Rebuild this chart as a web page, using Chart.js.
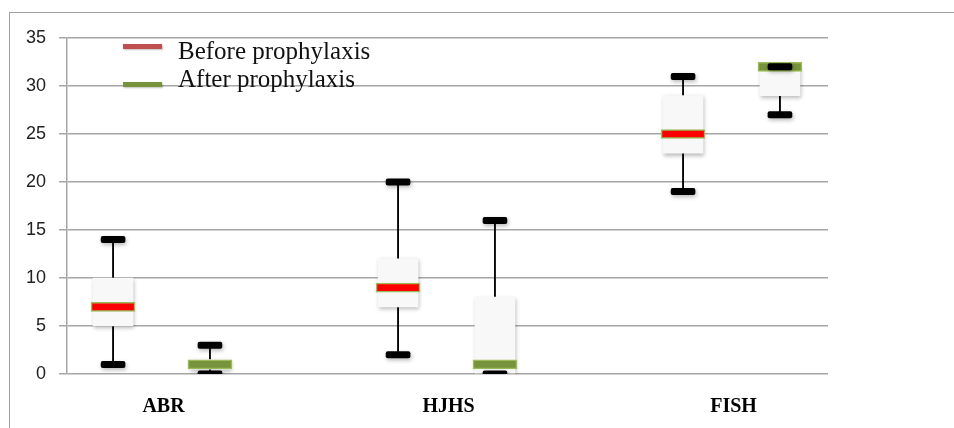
<!DOCTYPE html>
<html>
<head>
<meta charset="utf-8">
<script src="https://cdn.jsdelivr.net/npm/chart.js@4/dist/chart.umd.min.js"></script>
<style>
  body { margin: 0; background: #fff; overflow: hidden; }
  #wrap { position: relative; width: 954px; height: 428px; overflow: hidden; }
  #frame { position: absolute; left: 9px; top: 12px; width: 1000px; height: 500px;
           border-left: 1px solid #a0a0a0; border-top: 1px solid #a0a0a0; }
  #graphBox { position: absolute; left: 0; top: 0; }
  .legendItem { position: absolute; left: 178px; font: 25px "Liberation Serif", serif;
                line-height: 28px; color: #111; white-space: nowrap; }
  .legendLine { position: absolute; left: 123px; width: 39px; height: 5px;
                box-shadow: 1px 1px 2px rgba(0,0,0,0.25); }
</style>
</head>
<body>
<div id="wrap">
  <div id="frame"></div>
  <canvas id="graphBox" width="954" height="428"></canvas>
  <div class="legendLine" style="top:44px;background:#c0504d"></div>
  <div class="legendItem" style="top:37px">Before prophylaxis</div>
  <div class="legendLine" style="top:82px;background:#77933c"></div>
  <div class="legendItem" style="top:65px">After prophylaxis</div>
</div>
<script>
// Box plot values
const categories = ['ABR', 'HJHS', 'FISH'];

const beforeMin = [1, 2, 19];
const beforeQ1 = [5, 7, 23];
const beforeMedian = [7, 9, 25];
const beforeQ3 = [10, 12, 29];
const beforeMax = [14, 20, 31];

const afterMin = [0, 0, 27];
const afterQ1 = [0.5, 0, 29];
const afterMedian = [1, 1, 32];
const afterQ3 = [1.5, 8, 32];
const afterMax = [3, 16, 32];

const yTicks = [0, 5, 10, 15, 20, 25, 30, 35];

// where each series sits around its category
const shift = 0.17;
const medianHalf = 0.47;
const capHalf = 0.33;

function points(beforeFn, afterFn) {
    let out = [];
    categories.forEach((c, i) => {
        out.push({ x: i - shift, y: beforeFn(i) });
        out.push({ x: i + shift, y: afterFn(i) });
    });
    return out;
}

const whiskers = points(i => [beforeMin[i], beforeMax[i]], i => [afterMin[i], afterMax[i]]);
const boxes = points(i => [beforeQ1[i], beforeQ3[i]], i => [afterQ1[i], afterQ3[i]]);
const medians = points(i => [beforeMedian[i] - medianHalf, beforeMedian[i] + medianHalf],
                       i => [afterMedian[i] - medianHalf, afterMedian[i] + medianHalf]);
const lowCaps = points(i => [beforeMin[i] - capHalf, beforeMin[i] + capHalf],
                       i => [afterMin[i] - capHalf, afterMin[i] + capHalf]);
const highCaps = points(i => [beforeMax[i] - capHalf, beforeMax[i] + capHalf],
                        i => [afterMax[i] - capHalf, afterMax[i] + capHalf]);

const medianColors = medians.map((p, k) => k % 2 === 0 ? '#ff0000' : '#77933c');

// soft shadow under boxes and caps
const shadowPlugin = {
    id: 'shadow',
    beforeDatasetDraw(chart, args) {
        const ds = chart.data.datasets[args.index];
        if (!ds.shadow) return;
        const ctx = chart.ctx;
        ctx.save();
        ctx.shadowColor = 'rgba(0,0,0,0.28)';
        ctx.shadowBlur = 4;
        ctx.shadowOffsetX = 1;
        ctx.shadowOffsetY = 2;
    },
    afterDatasetDraw(chart, args) {
        const ds = chart.data.datasets[args.index];
        if (ds.shadow) chart.ctx.restore();
    }
};

const ctx = document.getElementById('graphBox').getContext('2d');

let graph = new Chart(ctx, {
    type: 'bar',
    data: {
        datasets: [
            { label: 'whisker', data: whiskers, backgroundColor: '#000', barThickness: 1.2, order: 5 },
            { label: 'box', data: boxes, backgroundColor: '#f8f8f8', barThickness: 40, order: 4, shadow: true },
            { label: 'median', data: medians, backgroundColor: medianColors, borderColor: '#9bbb59',
              borderWidth: 1.5, borderSkipped: false, barThickness: 44, order: 3 },
            { label: 'low', data: lowCaps, backgroundColor: '#000', barThickness: 24,
              borderRadius: 2, borderSkipped: false, order: 1, shadow: true },
            { label: 'high', data: highCaps, backgroundColor: '#000', barThickness: 24,
              borderRadius: 2, borderSkipped: false, order: 1, shadow: true }
        ]
    },
    options: {
        responsive: false,
        animation: false,
        datasets: { bar: { grouped: false } },
        layout: { padding: { left: 0, right: 126, top: 38, bottom: 0 } },
        plugins: {
            legend: { display: false },
            tooltip: { enabled: false }
        },
        scales: {
            x: {
                type: 'linear',
                offset: false,
                bounds: 'ticks',
                min: -0.3316,
                max: 2.3386,
                grid: { display: false, drawTicks: false },
                border: { display: false },
                afterBuildTicks: scale => { scale.ticks = categories.map((c, i) => ({ value: i })); },
                afterFit: scale => { scale.height = 54; },
                ticks: {
                    autoSkip: false,
                    padding: 21,
                    labelOffset: 2,
                    color: '#000',
                    font: { family: '"Liberation Serif", serif', size: 20, weight: 'bold' },
                    callback: (v, i) => categories[i]
                }
            },
            y: {
                min: 0,
                max: 35,
                afterBuildTicks: scale => { scale.ticks = yTicks.map(v => ({ value: v })); },
                afterFit: scale => { scale.width = 67; },
                grid: { color: '#a6a6a6', lineWidth: 1.5, tickLength: 8 },
                border: { color: '#a6a6a6', width: 1.5 },
                ticks: {
                    padding: 13,
                    color: '#222',
                    font: { family: '"Liberation Sans", sans-serif', size: 18 }
                }
            }
        }
    },
    plugins: [shadowPlugin]
});
</script>
</body>
</html>
